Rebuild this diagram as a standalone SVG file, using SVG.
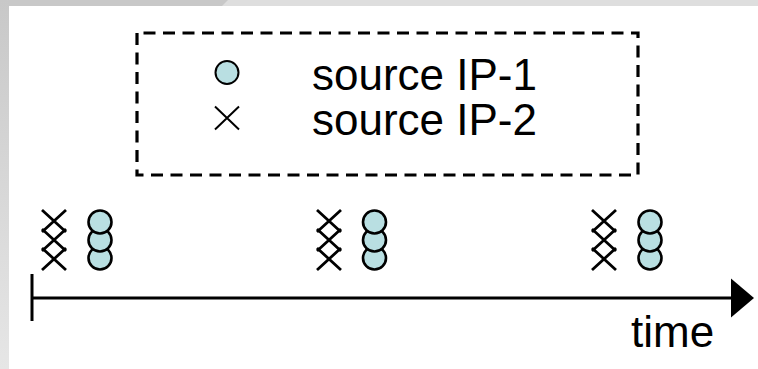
<svg xmlns="http://www.w3.org/2000/svg" width="758" height="369" viewBox="0 0 758 369">
  <defs>
    <linearGradient id="leftGrad" x1="0" y1="0" x2="0" y2="1">
      <stop offset="0" stop-color="#c8c8c8"/>
      <stop offset="1" stop-color="#e6e6e6"/>
    </linearGradient>
    <g id="dot"><circle r="11.5"/></g>
    <g id="cross"><path d="M-12,-11 L12,11 M-12,11 L12,-11"/></g>
  </defs>
  <style>
    .txt { font-family: "Liberation Sans", Arial, sans-serif; font-size: 44px; fill: #000; }
    .dot { fill: #b9dfe2; stroke: #000; stroke-width: 2.6; }
    .cross { fill: none; stroke: #000; stroke-width: 2.8; }
    .lcross { fill: none; stroke: #000; stroke-width: 2; }
    .ldot { fill: #b9dfe2; stroke: #000; stroke-width: 2; }
    .axis { fill: none; stroke: #000; stroke-width: 3; }
  </style>

  <!-- background -->
  <rect x="0" y="0" width="758" height="369" fill="#ffffff"/>
  <rect x="0" y="0" width="758" height="6" fill="#dedede"/>
  <polygon points="0,0 228,0 222,6 0,6" fill="#c8c8c8"/>
  <rect x="0" y="0" width="9" height="369" fill="url(#leftGrad)"/>

  <!-- legend -->
  <g id="legend">
    <path d="M137,33 V175 H638 V33 Z" fill="none" stroke="#000" stroke-width="3.2" stroke-dasharray="12 7.5"/>
    <circle class="ldot" cx="227" cy="72.5" r="11.5"/>
    <path class="lcross" d="M215,106.5 L239,129.5 M215,129.5 L239,106.5"/>
    <text class="txt" x="312" y="89.5">source IP-1</text>
    <text class="txt" x="312" y="135">source IP-2</text>
  </g>

  <!-- clusters -->
  <g id="cluster1">
    <use href="#cross" class="cross" x="54" y="221"/>
    <use href="#cross" class="cross" x="54" y="240"/>
    <use href="#cross" class="cross" x="54" y="259"/>
    <use href="#dot" class="dot" x="100" y="258"/>
    <use href="#dot" class="dot" x="100" y="240"/>
    <use href="#dot" class="dot" x="100" y="222"/>
  </g>
  <g id="cluster2">
    <use href="#cross" class="cross" x="329" y="221"/>
    <use href="#cross" class="cross" x="329" y="240"/>
    <use href="#cross" class="cross" x="329" y="259"/>
    <use href="#dot" class="dot" x="374.5" y="258"/>
    <use href="#dot" class="dot" x="374.5" y="240"/>
    <use href="#dot" class="dot" x="374.5" y="222"/>
  </g>
  <g id="cluster3">
    <use href="#cross" class="cross" x="604" y="221"/>
    <use href="#cross" class="cross" x="604" y="240"/>
    <use href="#cross" class="cross" x="604" y="259"/>
    <use href="#dot" class="dot" x="650" y="258"/>
    <use href="#dot" class="dot" x="650" y="240"/>
    <use href="#dot" class="dot" x="650" y="222"/>
  </g>

  <!-- connectors: time axis -->
  <g id="connectors">
    <line class="axis" x1="32" y1="274" x2="32" y2="321"/>
    <line class="axis" x1="32" y1="298" x2="733" y2="298"/>
    <polygon points="731,278.5 754,298 731,317.5" fill="#000"/>
  </g>

  <g id="axis-label">
    <text class="txt" x="631" y="346.5">time</text>
  </g>
</svg>
